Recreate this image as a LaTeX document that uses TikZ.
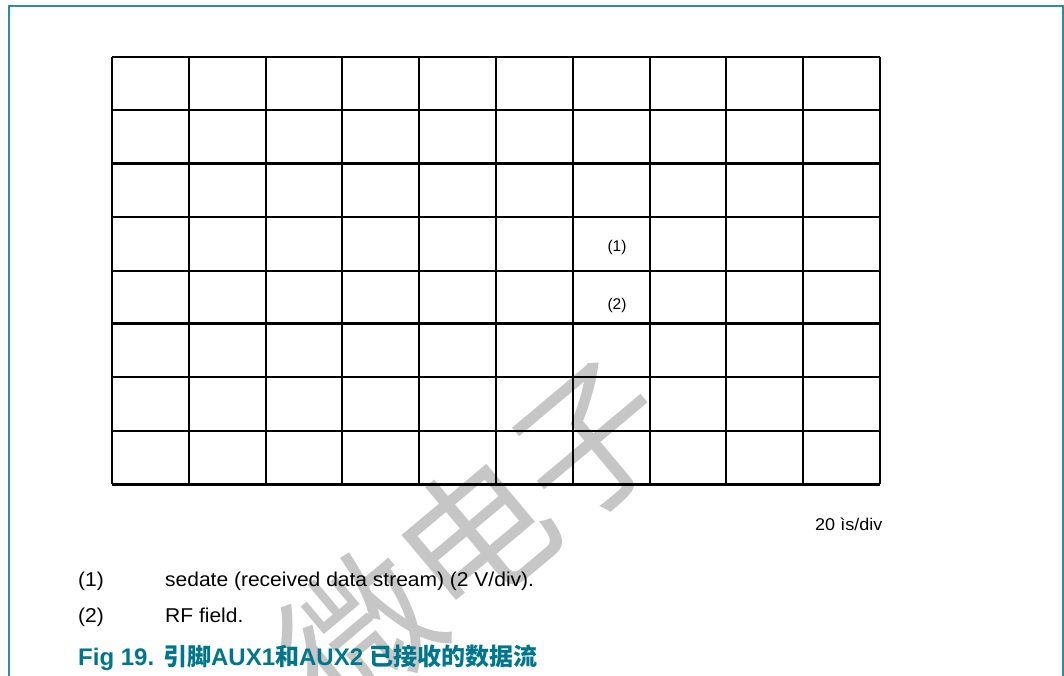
\documentclass[tikz,border=0pt]{standalone}
\usepackage{fontspec}
\setmainfont{Liberation Sans}
\newfontfamily\cjk{Noto Sans CJK SC}
\newfontfamily\cjkbold{Noto Sans CJK SC Bold}
\definecolor{frameteal}{RGB}{45,140,160}
\definecolor{capteal}{RGB}{0,118,140}
\definecolor{wmgray}{RGB}{198,198,198}
\tikzset{
  gridline/.style={line width=2pt,black},
  thickline/.style={line width=3pt,black},
  frameline/.style={line width=2pt,frameteal},
  body/.style={font=\fontsize{20}{22}\selectfont,anchor=base west,inner sep=0pt,xscale=1.05},
  small/.style={font=\fontsize{15.5}{17}\selectfont,anchor=base,inner sep=0pt},
}
\begin{document}
\begin{tikzpicture}[x=1pt,y=-1pt]
\useasboundingbox (0,0) rectangle (1064,675);
\begin{scope}
\clip (0,0) rectangle (1064,675);
% watermark
\node[wmgray,rotate=40,font=\cjk\fontsize{150}{155}\selectfont,inner sep=0pt] (wm) at (418,584) {上微电子};
% frame
\draw[frameline] (9,690) -- (9,6) -- (1063,6) -- (1063,690);
\end{scope}
% grid verticals
\foreach \i in {0,...,10}{
  \draw[gridline] ({112+76.8*\i},57) -- ({112+76.8*\i},484);
}
% grid horizontals
\foreach \j in {0,1,3,4,6,7}{
  \draw[gridline] (112,{57+53.375*\j}) -- (880,{57+53.375*\j});
}
\foreach \j in {2,5,8}{
  \draw[thickline] (112,{57+53.375*\j}) -- (880,{57+53.375*\j});
}
% labels inside grid
\node[small] (l1) at (617,251) {(1)};
\node[small] (l2) at (617,309) {(2)};
\node[font=\fontsize{17}{19}\selectfont,anchor=base west,inner sep=0pt,xscale=1.06] (scale) at (815,530) {20 ìs/div};
% legend
\node[body] (n1) at (78,586) {(1)};
\node[body] (t1) at (165,586) {sedate (received data stream) (2 V/div).};
\node[body] (n2) at (78,622) {(2)};
\node[body] (t2) at (165,622) {RF field.};
% caption
\node[anchor=base west,inner sep=0pt,text=capteal,font=\bfseries\fontsize{24}{28}\selectfont] (cap) at (78,665) {Fig 19. {\cjkbold 引脚}AUX1{\cjkbold 和}AUX2 {\cjkbold 已接收的数据流}};
\end{tikzpicture}
\end{document}
